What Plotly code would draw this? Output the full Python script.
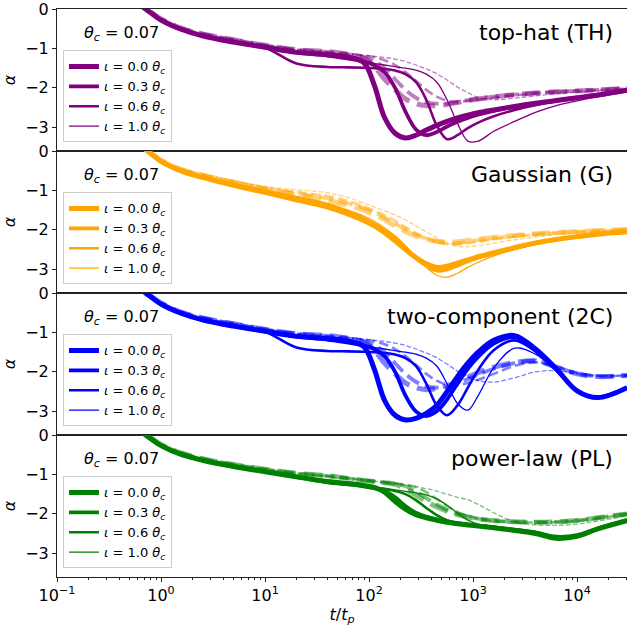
import plotly.graph_objects as go
from plotly.subplots import make_subplots

# Common time grid t / t_p
T = [0.5, 0.71, 1.0, 1.58, 2.5, 5.0, 10, 20, 40, 63, 89, 112, 141, 178, 224, 282,
     355, 447, 562, 708, 891, 1120, 1580, 2510, 3980, 6310, 10000, 15800, 30200]

INCLINATIONS = ["0.0", "0.3", "0.6", "1.0"]
THETA_C = "0.07"

# ---- top-hat (TH) ----
TH_I00 = [0.3, 0.0, -0.28, -0.52, -0.68, -0.84, -0.97, -1.10, -1.16, -1.22, -1.36, -1.92, -2.75, -3.15,
          -3.27, -3.2, -3.07, -2.95, -2.85, -2.76, -2.69, -2.63, -2.56, -2.47, -2.39, -2.32, -2.25, -2.18, -2.06]
TH_I03 = [0.3, 0.0, -0.28, -0.52, -0.68, -0.84, -0.97, -1.10, -1.18, -1.26, -1.33, -1.42, -1.6, -2.0,
          -2.6, -3.05, -3.2, -3.12, -2.98, -2.86, -2.76, -2.68, -2.58, -2.48, -2.4, -2.32, -2.25, -2.18, -2.06]
TH_I06 = [0.3, 0.0, -0.28, -0.52, -0.68, -0.84, -0.98, -1.38, -1.47, -1.48, -1.49, -1.5, -1.52, -1.56,
          -1.65, -1.85, -2.3, -2.95, -3.3, -3.2, -3.02, -2.88, -2.72, -2.56, -2.44, -2.34, -2.26, -2.18, -2.07]
TH_I10 = [0.3, 0.0, -0.28, -0.52, -0.68, -0.84, -0.97, -1.10, -1.2, -1.27, -1.33, -1.38, -1.42, -1.46,
          -1.5, -1.55, -1.65, -1.85, -2.3, -2.9, -3.35, -3.35, -3.1, -2.85, -2.62, -2.45, -2.33, -2.23, -2.1]
TH_D00 = [0.35, 0.03, -0.25, -0.49, -0.63, -0.78, -0.92, -1.03, -1.08, -1.15, -1.25, -1.45, -1.78, -2.05,
          -2.28, -2.4, -2.45, -2.45, -2.42, -2.37, -2.32, -2.28, -2.23, -2.17, -2.13, -2.1, -2.08, -2.05, -2.01]
TH_D03 = [0.35, 0.03, -0.25, -0.49, -0.63, -0.78, -0.92, -1.03, -1.09, -1.15, -1.22, -1.32, -1.5, -1.78,
          -2.05, -2.25, -2.36, -2.4, -2.4, -2.36, -2.31, -2.27, -2.22, -2.17, -2.13, -2.1, -2.07, -2.05, -2.01]
TH_D06 = [0.35, 0.03, -0.25, -0.49, -0.63, -0.78, -0.92, -1.03, -1.1, -1.14, -1.18, -1.22, -1.3, -1.42,
          -1.6, -1.82, -2.05, -2.22, -2.32, -2.35, -2.33, -2.3, -2.25, -2.19, -2.14, -2.1, -2.08, -2.05, -2.02]
TH_D10 = [0.35, 0.03, -0.25, -0.49, -0.63, -0.78, -0.92, -1.03, -1.1, -1.14, -1.17, -1.2, -1.23, -1.27,
          -1.33, -1.42, -1.52, -1.64, -1.8, -1.98, -2.12, -2.24, -2.3, -2.26, -2.2, -2.15, -2.11, -2.07, -2.03]

# ---- Gaussian (G) ----
G_I00 = [0.33, 0.04, -0.26, -0.51, -0.67, -0.87, -1.05, -1.24, -1.42, -1.6, -1.76, -1.9, -2.07, -2.28,
         -2.5, -2.7, -2.86, -2.95, -2.92, -2.84, -2.76, -2.68, -2.58, -2.45, -2.33, -2.24, -2.17, -2.11, -2.05]
G_I03 = [0.33, 0.04, -0.26, -0.5, -0.66, -0.85, -1.03, -1.21, -1.39, -1.57, -1.73, -1.87, -2.04, -2.25,
         -2.48, -2.72, -2.9, -2.99, -2.95, -2.86, -2.77, -2.69, -2.59, -2.46, -2.34, -2.25, -2.18, -2.11, -2.05]
G_I06 = [0.33, 0.04, -0.25, -0.5, -0.65, -0.84, -1.01, -1.18, -1.36, -1.54, -1.7, -1.84, -2.0, -2.2,
         -2.44, -2.7, -2.92, -3.05, -3.02, -2.92, -2.81, -2.72, -2.61, -2.47, -2.35, -2.26, -2.18, -2.12, -2.06]
G_I10 = [0.33, 0.04, -0.25, -0.49, -0.64, -0.82, -0.98, -1.15, -1.33, -1.5, -1.65, -1.78, -1.95, -2.15,
         -2.4, -2.68, -2.95, -3.15, -3.2, -3.1, -2.95, -2.82, -2.66, -2.5, -2.37, -2.27, -2.19, -2.12, -2.06]
G_D00 = [0.36, 0.06, -0.23, -0.47, -0.61, -0.79, -0.96, -1.1, -1.25, -1.38, -1.5, -1.61, -1.74, -1.9,
         -2.04, -2.15, -2.23, -2.29, -2.31, -2.3, -2.27, -2.24, -2.19, -2.14, -2.1, -2.07, -2.04, -2.02, -1.99]
G_D03 = [0.36, 0.06, -0.23, -0.47, -0.61, -0.79, -0.95, -1.08, -1.2, -1.33, -1.45, -1.56, -1.69, -1.84,
         -1.99, -2.12, -2.22, -2.29, -2.33, -2.33, -2.3, -2.26, -2.21, -2.15, -2.11, -2.07, -2.05, -2.02, -1.99]
G_D06 = [0.36, 0.06, -0.23, -0.46, -0.6, -0.77, -0.93, -1.04, -1.14, -1.27, -1.4, -1.51, -1.63, -1.77,
         -1.93, -2.08, -2.21, -2.3, -2.36, -2.37, -2.34, -2.3, -2.24, -2.17, -2.12, -2.08, -2.05, -2.02, -2.0]
G_D10 = [0.36, 0.06, -0.22, -0.45, -0.58, -0.75, -0.9, -0.98, -1.06, -1.18, -1.32, -1.42, -1.52, -1.62,
         -1.75, -1.9, -2.05, -2.2, -2.33, -2.42, -2.43, -2.4, -2.34, -2.25, -2.18, -2.12, -2.08, -2.05, -2.0]

# ---- two-component (2C) ----
C_I00 = [0.3, 0.0, -0.28, -0.52, -0.68, -0.84, -0.97, -1.10, -1.16, -1.22, -1.36, -1.92, -2.72, -3.1,
         -3.22, -3.18, -3.05, -2.85, -2.5, -2.12, -1.78, -1.5, -1.2, -1.08, -1.42, -1.92, -2.48, -2.65, -2.4]
C_I03 = [0.3, 0.0, -0.28, -0.52, -0.68, -0.84, -0.97, -1.10, -1.18, -1.26, -1.33, -1.42, -1.6, -2.0,
         -2.6, -3.0, -3.12, -3.0, -2.7, -2.3, -1.92, -1.62, -1.28, -1.12, -1.45, -1.93, -2.48, -2.65, -2.4]
C_I06 = [0.3, 0.0, -0.28, -0.52, -0.68, -0.84, -0.98, -1.38, -1.47, -1.48, -1.49, -1.5, -1.52, -1.56,
         -1.65, -1.85, -2.3, -2.85, -3.1, -2.85, -2.4, -1.95, -1.45, -1.2, -1.48, -1.95, -2.48, -2.65, -2.4]
C_I10 = [0.3, 0.0, -0.28, -0.52, -0.68, -0.84, -0.97, -1.10, -1.2, -1.27, -1.33, -1.38, -1.42, -1.46,
         -1.5, -1.55, -1.65, -1.85, -2.3, -2.8, -2.97, -2.6, -1.9, -1.4, -1.55, -1.98, -2.48, -2.65, -2.4]
C_D00 = [0.35, 0.03, -0.25, -0.49, -0.63, -0.78, -0.92, -1.03, -1.08, -1.15, -1.25, -1.45, -1.78, -2.05,
         -2.28, -2.4, -2.45, -2.42, -2.35, -2.25, -2.13, -2.02, -1.88, -1.76, -1.72, -1.88, -2.05, -2.12, -2.09]
C_D03 = [0.35, 0.03, -0.25, -0.49, -0.63, -0.78, -0.92, -1.03, -1.09, -1.15, -1.22, -1.32, -1.5, -1.78,
         -2.05, -2.25, -2.36, -2.4, -2.38, -2.3, -2.18, -2.07, -1.92, -1.78, -1.72, -1.87, -2.04, -2.11, -2.09]
C_D06 = [0.35, 0.03, -0.25, -0.49, -0.63, -0.78, -0.92, -1.03, -1.1, -1.14, -1.18, -1.22, -1.3, -1.42,
         -1.6, -1.82, -2.05, -2.22, -2.32, -2.33, -2.28, -2.2, -2.05, -1.85, -1.76, -1.87, -2.03, -2.1, -2.09]
C_D10 = [0.35, 0.03, -0.25, -0.49, -0.63, -0.78, -0.92, -1.03, -1.1, -1.14, -1.17, -1.2, -1.23, -1.27,
         -1.33, -1.42, -1.52, -1.64, -1.8, -1.98, -2.12, -2.22, -2.26, -2.15, -2.0, -1.97, -2.05, -2.1, -2.09]

# ---- power-law (PL) ----
P_I00 = [0.3, 0.0, -0.27, -0.5, -0.64, -0.8, -0.93, -1.06, -1.18, -1.23, -1.28, -1.33, -1.45, -1.68,
         -1.88, -2.02, -2.1, -2.16, -2.21, -2.25, -2.28, -2.31, -2.35, -2.42, -2.5, -2.62, -2.57, -2.38, -2.17]
P_I03 = [0.3, 0.0, -0.27, -0.5, -0.64, -0.8, -0.93, -1.06, -1.2, -1.25, -1.3, -1.35, -1.42, -1.58,
         -1.8, -1.97, -2.07, -2.14, -2.2, -2.24, -2.27, -2.3, -2.34, -2.4, -2.47, -2.58, -2.54, -2.37, -2.16]
P_I06 = [0.3, 0.0, -0.27, -0.5, -0.64, -0.8, -0.93, -1.06, -1.2, -1.25, -1.3, -1.33, -1.37, -1.42,
         -1.5, -1.65, -1.85, -2.03, -2.16, -2.22, -2.26, -2.29, -2.33, -2.39, -2.46, -2.58, -2.54, -2.37, -2.17]
P_I10 = [0.3, 0.0, -0.27, -0.5, -0.64, -0.8, -0.93, -1.06, -1.19, -1.24, -1.29, -1.32, -1.35, -1.39,
         -1.43, -1.47, -1.52, -1.62, -1.78, -1.98, -2.16, -2.26, -2.32, -2.38, -2.45, -2.57, -2.54, -2.37, -2.17]
P_D00 = [0.35, 0.03, -0.24, -0.46, -0.6, -0.75, -0.87, -0.97, -1.03, -1.1, -1.15, -1.18, -1.21, -1.25,
         -1.36, -1.52, -1.68, -1.82, -1.93, -2.02, -2.08, -2.13, -2.17, -2.2, -2.21, -2.2, -2.17, -2.1, -2.0]
P_D03 = [0.35, 0.03, -0.24, -0.46, -0.6, -0.75, -0.87, -0.97, -1.04, -1.1, -1.15, -1.18, -1.21, -1.24,
         -1.3, -1.43, -1.6, -1.76, -1.9, -2.0, -2.07, -2.12, -2.17, -2.2, -2.21, -2.2, -2.17, -2.1, -2.0]
P_D06 = [0.35, 0.03, -0.24, -0.46, -0.6, -0.75, -0.87, -0.97, -1.04, -1.1, -1.14, -1.17, -1.2, -1.23,
         -1.26, -1.32, -1.45, -1.62, -1.8, -1.95, -2.05, -2.12, -2.18, -2.21, -2.22, -2.21, -2.18, -2.11, -2.01]
P_D10 = [0.35, 0.03, -0.24, -0.46, -0.6, -0.75, -0.87, -0.97, -1.05, -1.1, -1.14, -1.17, -1.2, -1.23,
         -1.27, -1.31, -1.36, -1.42, -1.5, -1.58, -1.64, -1.76, -1.97, -2.2, -2.28, -2.29, -2.26, -2.18, -2.05]

PANEL_NAMES = ["top-hat (TH)", "Gaussian (G)", "two-component (2C)", "power-law (PL)"]
PANEL_RGB = [(128, 0, 128), (255, 165, 0), (0, 0, 255), (0, 128, 0)]
SOLID = [[TH_I00, TH_I03, TH_I06, TH_I10], [G_I00, G_I03, G_I06, G_I10],
         [C_I00, C_I03, C_I06, C_I10], [P_I00, P_I03, P_I06, P_I10]]
DASHED = [[TH_D00, TH_D03, TH_D06, TH_D10], [G_D00, G_D03, G_D06, G_D10],
          [C_D00, C_D03, C_D06, C_D10], [P_D00, P_D03, P_D06, P_D10]]

XTICKS = [0.1, 1, 10, 100, 1000, 10000]
XTICKTEXT = ["10<sup>\u22121</sup>", "10<sup>0</sup>", "10<sup>1</sup>",
             "10<sup>2</sup>", "10<sup>3</sup>", "10<sup>4</sup>"]

LINE_WIDTHS = [5.0, 3.8, 2.6, 1.3]
FONT = "DejaVu Sans"
AX_COLOR = "#222222"

fig = make_subplots(rows=4, cols=1, shared_xaxes=True, vertical_spacing=0)

for p in range(4):
    r, g, b = PANEL_RGB[p]
    solid_col = f"rgb({r},{g},{b})"
    dash_col = f"rgba({r},{g},{b},0.5)"
    leg = "legend" if p == 0 else f"legend{p + 1}"
    for k, alpha in enumerate(SOLID[p]):
        fig.add_trace(go.Scatter(
            x=T, y=alpha, mode="lines",
            line=dict(color=solid_col, width=LINE_WIDTHS[k], shape="spline", smoothing=1.0),
            name=f"<i>\u03b9</i> = {INCLINATIONS[k]} <i>\u03b8</i><sub><i>c</i></sub>",
            legend=leg, showlegend=True, hoverinfo="skip"), row=p + 1, col=1)
    for k, alpha in enumerate(DASHED[p]):
        w = LINE_WIDTHS[k]
        fig.add_trace(go.Scatter(
            x=T, y=alpha, mode="lines",
            line=dict(color=dash_col, width=w, shape="spline", smoothing=1.0,
                      dash=f"{3.7 * w:.1f}px,{1.6 * w:.1f}px"),
            showlegend=False, legend=leg, hoverinfo="skip"), row=p + 1, col=1)

    # legend box for this panel
    fig.update_layout({leg: dict(
        x=0.0105, y=0.927 - 0.25 * p, xanchor="left", yanchor="top",
        bgcolor="rgba(255,255,255,0.8)", bordercolor="#cccccc", borderwidth=1,
        font=dict(family=FONT, size=13, color="black"), itemwidth=30,
        tracegroupgap=0)})

    # panel labels
    fig.add_annotation(x=0.114, y=0.957 - 0.25 * p, xref="paper", yref="paper",
                       text=f"<i>\u03b8</i><sub><i>c</i></sub> = {THETA_C}", showarrow=False,
                       font=dict(family=FONT, size=16, color="black"),
                       xanchor="center", yanchor="middle")
    fig.add_annotation(x=0.979, y=0.958 - 0.25 * p, xref="paper", yref="paper",
                       text=PANEL_NAMES[p], showarrow=False,
                       font=dict(family=FONT, size=22, color="black"),
                       xanchor="right", yanchor="middle")

    bottom = p == 3
    fig.update_xaxes(
        type="log", range=[-1, 4.48], showgrid=False, zeroline=False,
        showline=True, linecolor=AX_COLOR, linewidth=1, mirror=True,
        ticks="outside" if bottom else "", ticklen=4, tickcolor=AX_COLOR,
        tickvals=XTICKS, ticktext=XTICKTEXT, showticklabels=bottom,
        tickfont=dict(family=FONT, size=16, color="black"),
        minor=dict(ticks="outside" if bottom else "", ticklen=2, tickcolor=AX_COLOR, dtick="D1"),
        row=p + 1, col=1)
    fig.update_yaxes(
        range=[-3.6, 0], showgrid=False, zeroline=False,
        showline=True, linecolor=AX_COLOR, linewidth=1,
        ticks="outside", ticklen=4, tickcolor=AX_COLOR, ticklabeloverflow="allow",
        tickvals=[0, -1, -2, -3], tickfont=dict(family=FONT, size=16, color="black"),
        title=dict(text="<i>\u03b1</i>", font=dict(family=FONT, size=16, color="black"), standoff=8),
        row=p + 1, col=1)

fig.update_xaxes(title=dict(text="<i>t</i>/<i>t</i><sub><i>p</i></sub>",
                            font=dict(family=FONT, size=16, color="black"), standoff=4),
                 row=4, col=1)

fig.update_layout(
    width=627, height=629,
    margin=dict(l=57, r=0, t=5, b=52),
    plot_bgcolor="white", paper_bgcolor="white",
    font=dict(family=FONT, color="black"),
)

fig.write_html("out.html")
